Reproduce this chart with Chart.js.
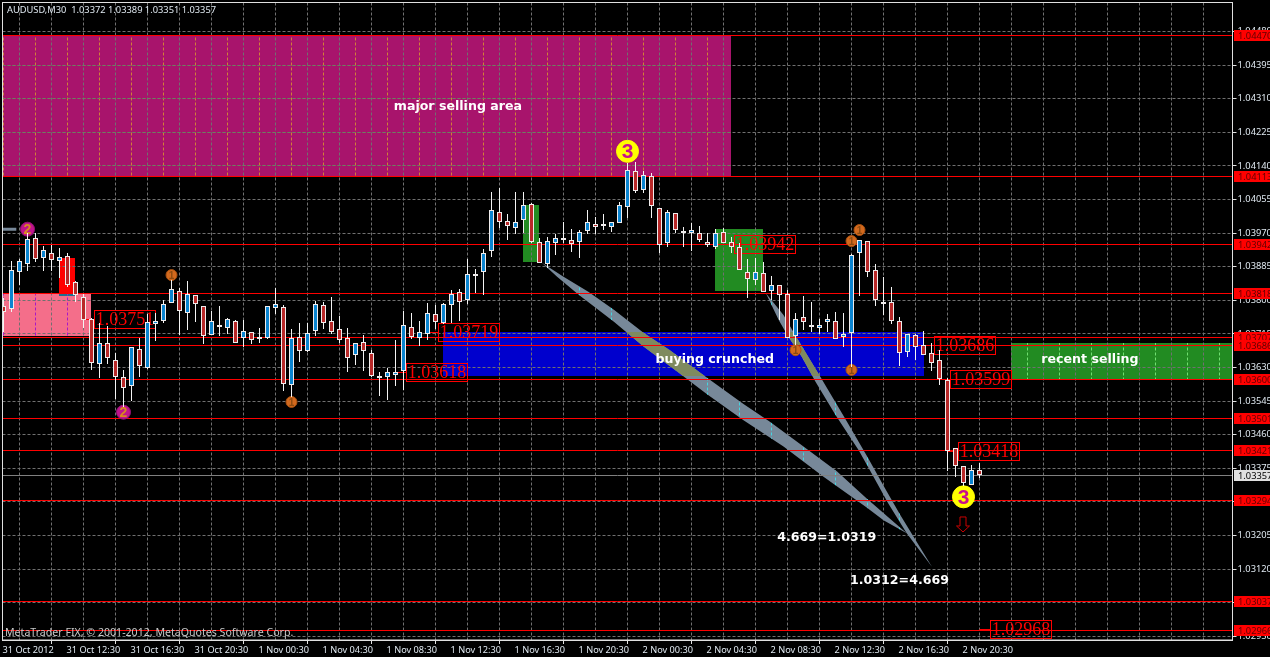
<!DOCTYPE html>
<html>
<head>
<meta charset="utf-8">
<title>AUDUSD,M30</title>
<script src="https://cdn.jsdelivr.net/npm/chart.js@4/dist/chart.umd.js"></script>
<style>
  html, body { margin: 0; padding: 0; background: #000; overflow: hidden; }
  canvas { display: block; }
</style>
</head>
<body>
<canvas id="chart" width="1270" height="657"></canvas>
<script>
const opens = [
  1.03786,1.03779,1.03872,1.03893,1.03959,1.03907,1.03921,1.03900,1.03911,1.03846,
  1.03808,1.03754,1.03640,1.03691,1.03648,1.03605,1.03584,1.03676,1.03630,1.03739,
  1.03748,1.03794,1.03823,1.03769,1.03813,1.03785,1.03713,1.03737,1.03730,1.03749,
  1.03706,1.03719,1.03708,1.03704,1.03781,1.03782,1.03586,1.03708,1.03672,1.03723,
  1.03787,1.03747,1.03727,1.03706,1.03662,1.03694,1.03668,1.03608,1.03607,1.03612,
  1.03622,1.03732,1.03704,1.03716,1.03765,1.03742,1.03789,1.03820,1.03802,1.03867,
  1.03871,1.03925,1.04023,1.04002,1.03984,1.04004,1.04045,1.03947,1.03893,1.03946,
  1.03954,1.03952,1.03948,1.03976,1.03993,1.03987,1.03986,1.03995,1.04037,1.04126,
  1.04080,1.04114,1.04033,1.03946,1.04020,1.03976,1.03970,1.03970,1.03948,1.03934,
  1.03974,1.03948,1.03934,1.03873,1.03851,1.03870,1.03824,1.03838,1.03815,1.03711,
  1.03757,1.03738,1.03731,1.03744,1.03749,1.03707,1.03718,1.03920,1.03949,1.03876,
  1.03796,1.03795,1.03747,1.03670,1.03713,1.03687,1.03666,1.03648,1.03598,1.03426,
  1.03380,1.03333,1.03372
];
const closes = [
  1.03771,1.03876,1.03899,1.03954,1.03904,1.03927,1.03903,1.03909,1.03839,1.03813,
  1.03751,1.03642,1.03693,1.03654,1.03607,1.03579,1.03681,1.03635,1.03744,1.03747,
  1.03792,1.03828,1.03774,1.03817,1.03791,1.03710,1.03747,1.03737,1.03754,1.03693,
  1.03722,1.03700,1.03705,1.03785,1.03790,1.03589,1.03705,1.03672,1.03718,1.03792,
  1.03743,1.03721,1.03700,1.03655,1.03691,1.03672,1.03609,1.03608,1.03619,1.03620,
  1.03737,1.03708,1.03719,1.03767,1.03746,1.03792,1.03817,1.03796,1.03866,1.03867,
  1.03919,1.04028,1.03999,1.03989,1.03997,1.04040,1.03948,1.03895,1.03949,1.03957,
  1.03959,1.03943,1.03972,1.03997,1.03986,1.03992,1.03997,1.04040,1.04129,1.04077,
  1.04116,1.04039,1.03941,1.04023,1.03979,1.03976,1.03977,1.03953,1.03940,1.03970,
  1.03946,1.03936,1.03876,1.03853,1.03873,1.03822,1.03840,1.03813,1.03706,1.03754,
  1.03744,1.03738,1.03737,1.03752,1.03703,1.03714,1.03916,1.03952,1.03872,1.03801,
  1.03796,1.03748,1.03666,1.03714,1.03683,1.03662,1.03642,1.03600,1.03418,1.03381,
  1.03338,1.03370,1.03357
];
const highs = [
  1.03806,1.03899,1.03905,1.03970,1.03970,1.03937,1.03940,1.03932,1.03921,1.03850,
  1.03816,1.03755,1.03743,1.03735,1.03666,1.03624,1.03682,1.03705,1.03765,1.03767,
  1.03801,1.03851,1.03830,1.03849,1.03813,1.03786,1.03773,1.03786,1.03755,1.03750,
  1.03750,1.03720,1.03731,1.03786,1.03831,1.03787,1.03727,1.03742,1.03742,1.03798,
  1.03797,1.03808,1.03760,1.03729,1.03692,1.03712,1.03674,1.03619,1.03628,1.03700,
  1.03773,1.03767,1.03748,1.03793,1.03788,1.03793,1.03825,1.03829,1.03905,1.03879,
  1.03930,1.04074,1.04084,1.04018,1.04074,1.04074,1.04046,1.03957,1.03961,1.03967,
  1.03998,1.03980,1.03977,1.04029,1.04011,1.04018,1.03998,1.04049,1.04147,1.04149,
  1.04128,1.04121,1.04034,1.04028,1.04021,1.03985,1.03995,1.03988,1.03970,1.03980,
  1.03982,1.03961,1.03944,1.03904,1.03906,1.03896,1.03861,1.03839,1.03826,1.03767,
  1.03810,1.03795,1.03754,1.03765,1.03770,1.03767,1.03917,1.03953,1.03950,1.03891,
  1.03858,1.03835,1.03757,1.03715,1.03715,1.03722,1.03691,1.03674,1.03604,1.03426,
  1.03381,1.03383,1.03389
];
const lows = [
  1.03720,1.03771,1.03839,1.03874,1.03897,1.03874,1.03874,1.03857,1.03833,1.03796,
  1.03731,1.03624,1.03604,1.03639,1.03550,1.03531,1.03545,1.03606,1.03626,1.03697,
  1.03743,1.03794,1.03713,1.03725,1.03744,1.03689,1.03713,1.03710,1.03716,1.03693,
  1.03682,1.03689,1.03691,1.03702,1.03765,1.03571,1.03556,1.03644,1.03669,1.03710,
  1.03728,1.03716,1.03691,1.03619,1.03636,1.03622,1.03607,1.03559,1.03548,1.03584,
  1.03573,1.03703,1.03684,1.03700,1.03728,1.03741,1.03742,1.03748,1.03791,1.03818,
  1.03813,1.03910,1.03983,1.03953,1.03968,1.03970,1.03945,1.03895,1.03882,1.03915,
  1.03944,1.03923,1.03906,1.03968,1.03968,1.03978,1.03972,1.03995,1.04009,1.04072,
  1.04072,1.04009,1.03920,1.03936,1.03970,1.03936,1.03925,1.03948,1.03936,1.03929,
  1.03944,1.03919,1.03876,1.03807,1.03839,1.03822,1.03801,1.03750,1.03704,1.03687,
  1.03725,1.03720,1.03716,1.03720,1.03703,1.03683,1.03632,1.03812,1.03860,1.03786,
  1.03763,1.03740,1.03634,1.03657,1.03649,1.03662,1.03621,1.03586,1.03368,1.03353,
  1.03330,1.03333,1.03351
];

const xTickLabels = ["31 Oct 2012","31 Oct 12:30","31 Oct 16:30","31 Oct 20:30","1 Nov 00:30","1 Nov 04:30",
  "1 Nov 08:30","1 Nov 12:30","1 Nov 16:30","1 Nov 20:30","2 Nov 00:30","2 Nov 04:30","2 Nov 08:30",
  "2 Nov 12:30","2 Nov 16:30","2 Nov 20:30"];
const yTicks = [1.0448,1.04395,1.0431,1.04225,1.0414,1.04055,1.0397,1.03885,1.038,1.03715,1.0363,
  1.03545,1.0346,1.03375,1.0329,1.03205,1.0312,1.03035,1.0295];

// red level lines, each has a tag on the price axis
const levels = [1.0447,1.04113,1.03942,1.03818,1.03707,1.03686,1.036,1.03501,1.03421,1.03294,1.03037,1.02966];
const lastPrice = 1.03357;

// shaded areas
const zoneStartBars = [-0.125,-0.125,6.94,6.94,64.94,88.94,54.94,125.94];
const zoneEndBars = [90.94,10.94,8.94,8.94,66.94,94.94,115.06,153.625];
const zoneTops = [1.0447,1.03818,1.03907,1.03816,1.04041,1.0398,1.0372,1.03691];
const zoneBottoms = [1.04113,1.0371,1.03816,1.03811,1.03898,1.03824,1.03609,1.036];
const zoneColors = ["#a8146c","#f46e8a","#ff0000","#1f6f8f","#228b22","#228b22","#0000cd","#228b22"];
const zoneGridV = ["#d08038","#a818c8",null,null,null,null,null,"#70e070"];
const zoneGridH = ["#6f7f5f",null,null,null,null,null,null,null];

// the two thin ellipses
const wedge1Bars = [67.3,70,73.1,76.3,80,83.3,87.9,92.5,95.8,100,104.2,107.9,112.9,110,107.9,102.5,97.5,92.5,87.9,84.2,80,76.3,71.9,69.2];
const wedge1Prices = [1.03895,1.0386,1.03822,1.03776,1.03718,1.03674,1.03605,1.03538,1.03493,1.0343,1.03367,1.03299,1.03211,
  1.03244,1.03276,1.03354,1.0343,1.03497,1.03563,1.0362,1.03683,1.03746,1.03814,1.0386];
const wedge2Bars = [95.3,97.5,99.2,102.1,105.2,108,110.2,112.1,116.05,112.9,110.6,108.75,106.9,104,101.5,99.8,98.1,96.9];
const wedge2Prices = [1.03818,1.03763,1.03704,1.03607,1.03501,1.03404,1.03324,1.03257,1.03126,
  1.03211,1.03286,1.03354,1.03421,1.0351,1.03594,1.03657,1.03708,1.0375];
const stubBars = [-0.125,1.6];
const stubPrices = [1.0398,1.0398];

// numbered circles
const oneBars = [21,36,99,106,106,107];
const onePrices = [1.03864,1.03543,1.03674,1.03624,1.0395,1.03978];
const twoBars = [3,15];
const twoPrices = [1.0398,1.03517];
const threeBars = [78,120];
const threePrices = [1.04177,1.03303];

// boxed price labels
const boxValues = [1.03751,1.03719,1.03618,1.03942,1.03686,1.03599,1.03418,1.02968];
const boxBars = [10,53,49,90,115,117,118,122];

// text notes
const noteTexts = ["major selling area","buying crunched","recent selling","4.669=1.0319","1.0312=4.669"];
const noteBars = [56.8,88.9,135.8,102.9,112];
const notePrices = [1.04289,1.03651,1.03649,1.03199,1.03092];

const arrowBar = 120;
const arrowPrice = 1.03252;

const titleText = "AUDUSD,M30  1.03372 1.03389 1.03351 1.03357";
const footerText = "MetaTrader FIX, \u00a9 2001-2012, MetaQuotes Software Corp.";

const xMin = -0.125, xMax = 153.625;
const yMax = 1.045535, yMin = 1.029408;
const axisFont = "Noto Sans";
const wedgeColor = "#778899";

function xTicksList() {
  let out = [];
  for (let b = 0; b <= 152; b += 4) out.push({ value: b });
  return out;
}

function align(v) {
  return Math.round(v - 0.5) + 0.5;
}

function noPadding(s) {
  s.paddingLeft = 0;
  s.paddingRight = 0;
  s.paddingTop = 0;
  s.paddingBottom = 0;
}

function gridV(chart, color) {
  const c = chart.ctx, a = chart.chartArea;
  c.strokeStyle = color;
  c.lineWidth = 1;
  c.setLineDash([3, 2]);
  chart.scales.x.ticks.forEach((t) => {
    const px = align(chart.scales.x.getPixelForValue(t.value));
    c.beginPath();
    c.moveTo(px, a.top);
    c.lineTo(px, a.bottom);
    c.stroke();
  });
  c.setLineDash([]);
}

function gridH(chart, color) {
  const c = chart.ctx, a = chart.chartArea;
  c.strokeStyle = color;
  c.lineWidth = 1;
  c.setLineDash([3, 2]);
  chart.scales.y.ticks.forEach((t) => {
    const py = align(chart.scales.y.getPixelForValue(t.value));
    c.beginPath();
    c.moveTo(a.left, py);
    c.lineTo(a.right, py);
    c.stroke();
  });
  c.setLineDash([]);
}

function zoneRect(chart, i) {
  const x = chart.scales.x, y = chart.scales.y;
  const left = Math.round(x.getPixelForValue(zoneStartBars[i]));
  const right = Math.round(x.getPixelForValue(zoneEndBars[i]));
  const top = Math.round(y.getPixelForValue(zoneTops[i]));
  const bottom = Math.round(y.getPixelForValue(zoneBottoms[i]));
  return [left, top, right - left, bottom - top];
}

function wedgePath(chart, bars, prices) {
  const p = new Path2D();
  bars.forEach((b, i) => {
    const px = chart.scales.x.getPixelForValue(b);
    const py = chart.scales.y.getPixelForValue(prices[i]);
    if (i === 0) p.moveTo(px, py);
    else p.lineTo(px, py);
  });
  p.closePath();
  return p;
}

const overlayPlugin = {
  id: "overlay",
  afterDatasetsUpdate(chart) {
    // MetaTrader draws on whole pixels, so snap the elements
    chart.data.datasets.forEach((ds, i) => {
      const meta = chart.getDatasetMeta(i);
      if (meta.type === "bar") {
        meta.data.forEach((el) => {
          el.y = Math.round(el.y);
          el.base = Math.round(el.base);
          if (ds.minBody && el.base - el.y < ds.minBody) el.base = el.y + ds.minBody;
        });
      } else if (ds.snap) {
        meta.data.forEach((el) => {
          el.y = align(el.y);
        });
      }
    });
  },
  beforeDraw(chart) {
    const c = chart.ctx;
    c.save();
    c.fillStyle = "#000";
    c.fillRect(0, 0, chart.width, chart.height);
    zoneColors.forEach((col, i) => {
      const r = zoneRect(chart, i);
      c.fillStyle = col;
      c.fillRect(r[0], r[1], r[2], r[3]);
    });
    c.restore();
  },
  beforeDatasetsDraw(chart) {
    const c = chart.ctx;
    const x = chart.scales.x, y = chart.scales.y;
    c.save();
    // grid shows in other colours through the areas
    zoneColors.forEach((col, i) => {
      if (!zoneGridV[i] && !zoneGridH[i]) return;
      const r = zoneRect(chart, i);
      c.save();
      c.beginPath();
      c.rect(r[0], r[1], r[2], r[3]);
      c.clip();
      if (zoneGridV[i]) gridV(chart, zoneGridV[i]);
      if (zoneGridH[i]) gridH(chart, zoneGridH[i]);
      c.restore();
    });
    // ellipses
    const blue = zoneRect(chart, 6);
    [wedgePath(chart, wedge1Bars, wedge1Prices), wedgePath(chart, wedge2Bars, wedge2Prices)].forEach((p) => {
      c.fillStyle = wedgeColor;
      c.fill(p);
      c.save();
      c.clip(p);
      gridV(chart, "#45d5e0");
      c.restore();
      c.save();
      c.beginPath();
      c.rect(blue[0], blue[1], blue[2], blue[3]);
      c.clip();
      c.fillStyle = "#7f8a5f";
      c.fill(p);
      c.restore();
    });
    // boxed labels
    c.strokeStyle = "#ff0000";
    c.fillStyle = "#ff0000";
    c.lineWidth = 1;
    c.font = "18px 'Liberation Serif'";
    c.textAlign = "center";
    c.textBaseline = "middle";
    boxValues.forEach((v, i) => {
      const bx = x.getPixelForValue(boxBars[i]);
      const py = align(y.getPixelForValue(v));
      const left = align(bx + 10.5);
      c.beginPath();
      c.moveTo(bx, py);
      c.lineTo(left, py);
      c.stroke();
      c.strokeRect(left, py - 9, 61, 18);
      c.fillText(v.toFixed(5), left + 30.5, py + 1);
    });
    // notes
    c.fillStyle = "#ffffff";
    c.font = "bold 12.6px 'DejaVu Sans'";
    noteTexts.forEach((t, i) => {
      c.fillText(t, x.getPixelForValue(noteBars[i]), y.getPixelForValue(notePrices[i]));
    });
    // down arrow under the last wave
    const ax = x.getPixelForValue(arrowBar) - 0.5;
    const ay = y.getPixelForValue(arrowPrice);
    c.strokeStyle = "#c80000";
    c.lineWidth = 1;
    c.beginPath();
    c.moveTo(ax - 3, ay);
    c.lineTo(ax + 3, ay);
    c.lineTo(ax + 3, ay + 9);
    c.lineTo(ax + 6.5, ay + 9);
    c.lineTo(ax, ay + 15);
    c.lineTo(ax - 6.5, ay + 9);
    c.lineTo(ax - 3, ay + 9);
    c.closePath();
    c.stroke();
    c.restore();
  },
  afterDatasetDraw(chart, args) {
    const ds = chart.data.datasets[args.index];
    if (!ds.digit) return;
    const c = chart.ctx;
    c.save();
    c.fillStyle = ds.digitColor;
    c.font = ds.digitFont;
    c.textAlign = "center";
    c.textBaseline = "middle";
    args.meta.data.forEach((el) => c.fillText(ds.digit, el.x, el.y + 1));
    c.restore();
  },
  afterDraw(chart) {
    const c = chart.ctx, a = chart.chartArea;
    const y = chart.scales.y;
    c.save();
    // frame
    c.strokeStyle = "#e0e0e0";
    c.lineWidth = 1;
    c.strokeRect(2.5, 2.5, 1230, 637.5);
    // price tags
    c.font = "9.3px '" + axisFont + "'";
    c.textAlign = "left";
    c.textBaseline = "middle";
    levels.forEach((v) => {
      const py = align(y.getPixelForValue(v));
      c.fillStyle = "#ff0000";
      c.fillRect(1234, py - 5.5, 36, 11);
      c.fillStyle = "#600000";
      c.fillText(v.toFixed(5), 1238, py + 0.5);
    });
    const lp = align(y.getPixelForValue(lastPrice));
    c.fillStyle = "#e0e0e0";
    c.fillRect(1234, lp - 5.5, 36, 11);
    c.fillStyle = "#000";
    c.fillText(lastPrice.toFixed(5), 1238, lp + 0.5);
    // title and copyright
    c.fillStyle = "#dfe8f0";
    c.fillText(titleText, 7, 10.5);
    c.fillStyle = "#c8c8c8";
    c.font = "10.6px '" + axisFont + "'";
    c.fillText(footerText, 5, 632.5);
    c.restore();
  },
};

const levelSets = levels.map((v) => ({
  type: "line",
  data: [{ x: xMin, y: v }, { x: xMax, y: v }],
  borderColor: "#ff0000",
  borderWidth: 1,
  pointRadius: 0,
  snap: true,
  order: 7,
}));

function markerSet(bars, prices, radius, fill, edge, digit, digitColor, digitFont) {
  return {
    type: "line",
    showLine: false,
    data: bars.map((b, i) => ({ x: b, y: prices[i] })),
    pointRadius: radius,
    pointBackgroundColor: fill,
    pointBorderColor: edge,
    pointBorderWidth: 1,
    digit: digit,
    digitColor: digitColor,
    digitFont: digitFont,
    order: 4,
  };
}

new Chart(document.getElementById("chart").getContext("2d"), {
  type: "bar",
  data: {
    datasets: [
      ...levelSets,
      {
        type: "line",
        data: [{ x: xMin, y: lastPrice }, { x: xMax, y: lastPrice }],
        borderColor: "#808080",
        borderWidth: 1,
        pointRadius: 0,
        snap: true,
        order: 8,
      },
      {
        type: "line",
        data: stubBars.map((b, i) => ({ x: b, y: stubPrices[i] })),
        borderColor: wedgeColor,
        borderWidth: 3,
        pointRadius: 0,
        order: 6,
      },
      markerSet(oneBars, onePrices, 5.5, "#d2691e", "#a85010", "1", "#8a4a10", "bold 10px 'Liberation Sans'"),
      markerSet(twoBars, twoPrices, 7, "#c0148c", "#901070", "2", "#d88a20", "bold 14px 'Liberation Sans'"),
      markerSet(threeBars, threePrices, 11, "#ffff00", "#ffff00", "3", "#c8108c", "bold 21px 'Liberation Sans'"),
      {
        label: "wicks",
        data: opens.map((o, i) => ({ x: i, y: [lows[i], highs[i]] })),
        backgroundColor: "#f4f4f4",
        barThickness: 1,
        grouped: false,
        inflateAmount: 0,
        order: 2,
      },
      {
        label: "bodies",
        data: opens.map((o, i) => ({ x: i, y: [o, closes[i]] })),
        backgroundColor: opens.map((o, i) => (closes[i] >= o ? "#0a84d0" : "#b82828")),
        borderColor: "#f0ecec",
        borderWidth: 1,
        borderSkipped: false,
        barThickness: 5,
        grouped: false,
        inflateAmount: 0,
        minBody: 2,
        order: 1,
      },
    ],
  },
  options: {
    responsive: false,
    devicePixelRatio: 1,
    animation: false,
    events: [],
    layout: { autoPadding: false, padding: { left: 2.5, top: 2.5, right: 0, bottom: 0 } },
    plugins: { legend: { display: false }, tooltip: { enabled: false } },
    scales: {
      x: {
        type: "linear",
        min: xMin,
        max: xMax,
        offset: false,
        afterBuildTicks: (s) => { s.ticks = xTicksList(); },
        afterFit: (s) => { s.height = 17; noPadding(s); },
        grid: {
          color: "#707070",
          tickLength: 4,
          tickColor: (ctx) => (ctx.tick && ctx.tick.value % 8 === 0 && ctx.tick.value <= 120 ? "#e0e0e0" : "transparent"),
        },
        border: { display: true, color: "#e0e0e0", dash: [3, 2] },
        ticks: {
          autoSkip: false,
          maxRotation: 0,
          minRotation: 0,
          align: "start",
          labelOffset: -1,
          padding: 1,
          color: "#dfe8f0",
          font: { family: axisFont, size: 9.2 },
          callback: (v) => (v % 8 === 0 && v / 8 < xTickLabels.length ? xTickLabels[v / 8] : ""),
        },
      },
      y: {
        position: "right",
        min: yMin,
        max: yMax,
        afterBuildTicks: (s) => { s.ticks = yTicks.map((v) => ({ value: v })); },
        afterFit: (s) => { s.width = 37.5; noPadding(s); },
        grid: { color: "#707070", tickLength: 4, tickColor: "#e0e0e0" },
        border: { display: true, color: "#e0e0e0", dash: [3, 2] },
        ticks: {
          autoSkip: false,
          padding: 1,
          color: "#dfe8f0",
          font: { family: axisFont, size: 9.3 },
          callback: (v) => v.toFixed(5),
        },
      },
    },
  },
  plugins: [overlayPlugin],
});
</script>
</body>
</html>
